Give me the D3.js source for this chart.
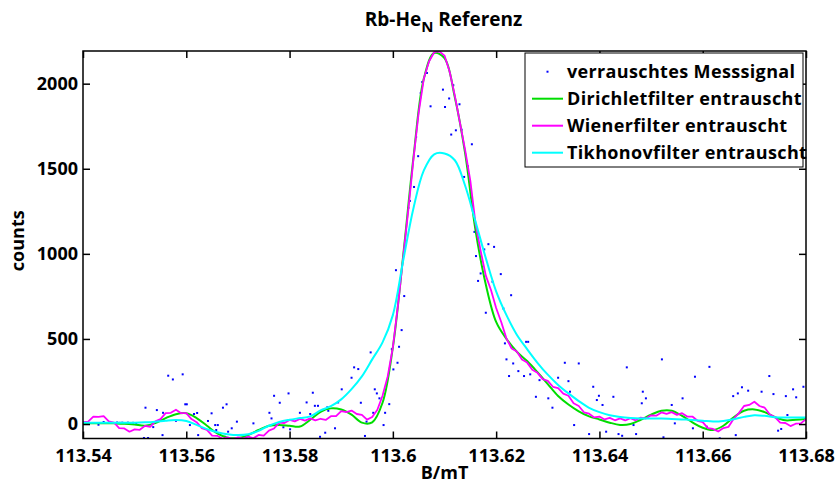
<!DOCTYPE html>
<html>
<head>
<meta charset="utf-8">
<script src="https://cdn.jsdelivr.net/npm/d3@7"></script>
<style>
  body { margin: 0; background: #fff; }
  svg text { font-family: "Open Sans", sans-serif; font-weight: 700; fill: #000; }
</style>
</head>
<body>
<svg id="chart" width="839" height="487"></svg>
<script>
// Axis ticks
const xTickValues = [113.54, 113.56, 113.58, 113.60, 113.62, 113.64, 113.66, 113.68];
const xTickLabels = ["113.54", "113.56", "113.58", "113.6", "113.62", "113.64", "113.66", "113.68"];
const yTickValues = [0, 500, 1000, 1500, 2000];

// Sampling grids of the filtered signals (field in mT)
const gridStart = 113.54;
const coarseStep = 0.002;
const fineStep = 0.001;

// Dirichlet filter output (counts), coarse grid
const dirichlet = [
  5, 5, 5, 4, 2, -3, -10, 5, 35, 58,
  63, 35, -10, -55, -80, -82, -65, -35, -10, -5,
  -10, -15, 25, 72, 92, 85, 55, 8, 10, 125,
  450, 990, 1570, 2030, 2180, 2150, 1920, 1590, 1140, 820,
  600, 500, 425, 370, 305, 235, 165, 115, 75, 45,
  27, 8, -5, 0, 25, 55, 78, 78, 48, 10,
  -22, -35, -10, 40, 78, 86, 70, 40, 22, 25,
  30
];

// Tikhonov filter output (counts), coarse grid
const tikhonov = [
  8, 8, 8, 8, 8, 8, 10, 14, 20, 24,
  18, -5, -30, -48, -60, -65, -60, -40, -10, 12,
  25, 35, 45, 80, 105, 145, 205, 280, 380, 480,
  640, 960, 1270, 1490, 1585, 1590, 1550, 1400, 1190, 975,
  780, 640, 525, 440, 360, 290, 230, 180, 135, 95,
  70, 52, 42, 36, 33, 33, 33, 30, 27, 24,
  20, 15, 18, 28, 42, 52, 48, 40, 38, 38,
  38
];

// Wiener filter output (counts), fine grid
const wiener = [
  11, 14, 44, 42, 46, 16, 9, -24, -26, -45,
  -31, -34, -11, -16, 16, 29, 64, 66, 84, 64,
  64, 29, 11, -24, -34, -68, -69, -86, -79, -88,
  -79, -86, -74, -84, -64, -68, -39, -26, 8, 6,
  24, 16, 30, 20, 33, 21, 31, 24, 46, 46,
  76, 70, 79, 59, 54, 26, 41, 84, 166, 280,
  450, 700, 980, 1260, 1560, 1830, 2030, 2130, 2185, 2190,
  2165, 2070, 1930, 1770, 1610, 1430, 1180, 1018, 872, 788,
  682, 598, 502, 444, 426, 379, 361, 319, 301, 264,
  254, 219, 211, 179, 166, 122, 106, 69, 61, 39,
  44, 27, 36, 22, 33, 21, 34, 22, 38, 32,
  51, 49, 68, 60, 70, 54, 64, 44, 44, 19,
  11, -24, -29, -44, -24, -16, 31, 64, 106, 112,
  131, 106, 96, 56, 41, 8, 6, -12, 2, 4,
  29
];

// Noisy measured signal: field (mT) and counts
const noiseField = [
  113.5430, 113.5440, 113.5460, 113.5466, 113.5471, 113.5476, 113.5481, 113.5487, 113.5492, 113.5497,
  113.5503, 113.5518, 113.5521, 113.5526, 113.5536, 113.5543, 113.5554, 113.5555, 113.5565, 113.5574,
  113.5580, 113.5593, 113.5598, 113.5601, 113.5607, 113.5615, 113.5621, 113.5623, 113.5642, 113.5649,
  113.5656, 113.5658, 113.5661, 113.5671, 113.5675, 113.5678, 113.5681, 113.5688, 113.5698, 113.5710,
  113.5730, 113.5761, 113.5765, 113.5770, 113.5781, 113.5788, 113.5798, 113.5801, 113.5820, 113.5833,
  113.5840, 113.5845, 113.5849, 113.5855, 113.5859, 113.5869, 113.5873, 113.5875, 113.5888, 113.5894,
  113.5901, 113.5920, 113.5925, 113.5933, 113.5938, 113.5946, 113.5949, 113.5957, 113.5962, 113.5965,
  113.5969, 113.5974, 113.5982, 113.5985, 113.5993, 113.5998, 113.6001, 113.6006, 113.6009, 113.6012,
  113.6017, 113.6022, 113.6030, 113.6033, 113.6041, 113.6045, 113.6049, 113.6054, 113.6057, 113.6066,
  113.6073, 113.6097, 113.6101, 113.6109, 113.6113, 113.6117, 113.6122, 113.6129, 113.6133, 113.6138,
  113.6145, 113.6149, 113.6153, 113.6158, 113.6161, 113.6165, 113.6170, 113.6177, 113.6180, 113.6185,
  113.6193, 113.6196, 113.6209, 113.6214, 113.6217, 113.6220, 113.6225, 113.6229, 113.6233, 113.6243,
  113.6254, 113.6258, 113.6262, 113.6266, 113.6277, 113.6284, 113.6301, 113.6309, 113.6320, 113.6333,
  113.6340, 113.6343, 113.6351, 113.6360, 113.6380, 113.6388, 113.6395, 113.6399, 113.6406, 113.6413,
  113.6427, 113.6437, 113.6444, 113.6453, 113.6466, 113.6471, 113.6482, 113.6484, 113.6490, 113.6521,
  113.6524, 113.6540, 113.6546, 113.6561, 113.6581, 113.6585, 113.6608, 113.6613, 113.6633, 113.6659,
  113.6664, 113.6668, 113.6676, 113.6688, 113.6714, 113.6729, 113.6737, 113.6746, 113.6752, 113.6761,
  113.6764, 113.6775, 113.6781, 113.6795
];
const noiseCounts = [
  -4, 12, 6, 9, 7, 8, 6, 8, 5, 7,
  4, -82, 96, -82, -18, 82, -65, 66, 284, 262,
  19, 292, 116, 116, -6, 59, 65, -65, 18, 63,
  -6, -35, -6, 96, -75, 116, -45, -25, 14, -65,
  4, 66, 33, 166, 125, -19, 180, -31, 66, 127,
  59, 184, 107, 107, -75, -51, 98, 78, -25, 127,
  204, 272, 333, 323, 125, -70, 14, 421, 66, 204,
  180, 151, -6, 66, 117, 440, 321, 904, 360, 454,
  552, 752, 1270, 1311, 1393, 1687, 1574, 1945, 2010, 2063,
  1867, 1965, 1863, 1913, 1701, 1991, 1726, 1879, 1730, 1452,
  1515, 1423, 1644, 1129, 987, 841, 885, 1026, 654, 1057,
  836, 1041, 881, 679, 474, 380, 282, 757, 356, 311,
  282, 483, 483, 292, 160, 258, 151, 96, 272, 360,
  252, 190, -6, 356, -59, 219, 141, 166, 112, -45,
  160, -59, -69, 333, -6, -59, 122, 190, 151, 380,
  -78, 112, 4, 151, -25, 278, -16, 336, -84, 164,
  -65, 180, 216, 196, 190, 282, 176, -39, -29, 164,
  53, 204, 157, 219
];

// Series colours and legend entries
const legendLabels = ["verrauschtes Messsignal", "Dirichletfilter entrauscht", "Wienerfilter entrauscht", "Tikhonovfilter entrauscht"];
const seriesColors = ["#0000ff", "#00dd00", "#ff00ff", "#00ffff"];

const svg = d3.select("#chart");
const W = 839, H = 487;
const margin = { left: 83, right: 33, top: 51, bottom: 48.5 };
const plotW = W - margin.left - margin.right;
const plotH = H - margin.top - margin.bottom;

const x = d3.scaleLinear().domain([113.54, 113.68]).range([margin.left, margin.left + plotW]);
const y = d3.scaleLinear().domain([-85, 2192]).range([margin.top + plotH, margin.top]);

svg.append("rect").attr("width", W).attr("height", H).attr("fill", "#fff");

svg.append("defs").append("clipPath").attr("id", "plotClip")
  .append("rect")
  .attr("x", margin.left).attr("y", margin.top)
  .attr("width", plotW).attr("height", plotH);

const plot = svg.append("g").attr("clip-path", "url(#plotClip)");

const coarse = dirichlet.map((_, i) => gridStart + i * coarseStep);
const fine = wiener.map((_, i) => gridStart + i * fineStep);

// Noisy data points
plot.append("g").selectAll("rect")
  .data(noiseField.map((b, i) => [b, noiseCounts[i]]))
  .join("rect")
  .attr("x", d => x(d[0]) - 1)
  .attr("y", d => y(d[1]) - 1)
  .attr("width", 2).attr("height", 2)
  .attr("fill", seriesColors[0]);

const smoothLine = d3.line().x(d => x(d[0])).y(d => y(d[1])).curve(d3.curveCatmullRom.alpha(0.5));
const rawLine = d3.line().x(d => x(d[0])).y(d => y(d[1]));

plot.append("path")
  .attr("d", smoothLine(coarse.map((b, i) => [b, dirichlet[i]])))
  .attr("fill", "none").attr("stroke", seriesColors[1]).attr("stroke-width", 2);

plot.append("path")
  .attr("d", rawLine(fine.map((b, i) => [b, wiener[i]])))
  .attr("fill", "none").attr("stroke", seriesColors[2]).attr("stroke-width", 1.8)
  .attr("stroke-linejoin", "round");

plot.append("path")
  .attr("d", smoothLine(coarse.map((b, i) => [b, tikhonov[i]])))
  .attr("fill", "none").attr("stroke", seriesColors[3]).attr("stroke-width", 2);

// Axes: ticks point inward on all four sides
const tickLen = 7;
const fontPx = 18;

const xAxisBottom = d3.axisBottom(x).tickValues(xTickValues)
  .tickFormat((d, i) => xTickLabels[i]).tickSizeInner(-tickLen).tickSizeOuter(0).tickPadding(11);
const xAxisTop = d3.axisTop(x).tickValues(xTickValues).tickFormat("").tickSizeInner(-tickLen).tickSizeOuter(0);
const yAxisLeft = d3.axisLeft(y).tickValues(yTickValues).tickFormat(d3.format("d"))
  .tickSizeInner(-tickLen).tickSizeOuter(0).tickPadding(5);
const yAxisRight = d3.axisRight(y).tickValues(yTickValues).tickFormat("").tickSizeInner(-tickLen).tickSizeOuter(0);

function styleAxis(g) {
  g.select(".domain").remove();
  g.selectAll(".tick line").attr("stroke", "#000").attr("stroke-width", 1.5);
  g.selectAll(".tick text").attr("font-size", fontPx).attr("font-family", null).attr("fill", "#000");
}

svg.append("g").attr("transform", `translate(0,${margin.top + plotH})`).call(xAxisBottom).call(styleAxis);
svg.append("g").attr("transform", `translate(0,${margin.top})`).call(xAxisTop).call(styleAxis);
svg.append("g").attr("transform", `translate(${margin.left},0)`).call(yAxisLeft).call(styleAxis);
svg.append("g").attr("transform", `translate(${margin.left + plotW},0)`).call(yAxisRight).call(styleAxis);

svg.append("rect")
  .attr("x", margin.left).attr("y", margin.top)
  .attr("width", plotW).attr("height", plotH)
  .attr("fill", "none").attr("stroke", "#000").attr("stroke-width", 1.5);

// Axis labels and title
svg.append("text").attr("x", margin.left + plotW / 2).attr("y", 479)
  .attr("text-anchor", "middle").attr("font-size", fontPx).text("B/mT");

svg.append("text").attr("transform", `translate(24,${margin.top + plotH / 2 - 4}) rotate(-90)`)
  .attr("text-anchor", "middle").attr("font-size", fontPx).text("counts");

const title = svg.append("text").attr("x", 443.5).attr("y", 26)
  .attr("text-anchor", "middle").attr("font-size", 19);
title.append("tspan").text("Rb-He");
title.append("tspan").attr("dy", 6).attr("font-size", 15).text("N");
title.append("tspan").attr("dy", -6).text(" Referenz");

// Legend
const legend = svg.append("g");
legend.append("rect")
  .attr("x", 525).attr("y", 53).attr("width", 278).attr("height", 114)
  .attr("fill", "#fff").attr("stroke", "#000").attr("stroke-width", 1);

const rowY = d => 71.7 + d * 27;
legendLabels.forEach((label, i) => {
  const cy = rowY(i);
  if (i === 0) {
    legend.append("rect").attr("x", 546.5).attr("y", cy - 1).attr("width", 2).attr("height", 2)
      .attr("fill", seriesColors[0]);
  } else {
    legend.append("line").attr("x1", 532).attr("x2", 563).attr("y1", cy).attr("y2", cy)
      .attr("stroke", seriesColors[i]).attr("stroke-width", 2);
  }
  legend.append("text").attr("x", 567).attr("y", cy + 6.5)
    .attr("font-size", fontPx).attr("letter-spacing", 0.35).text(label);
});
</script>
</body>
</html>
